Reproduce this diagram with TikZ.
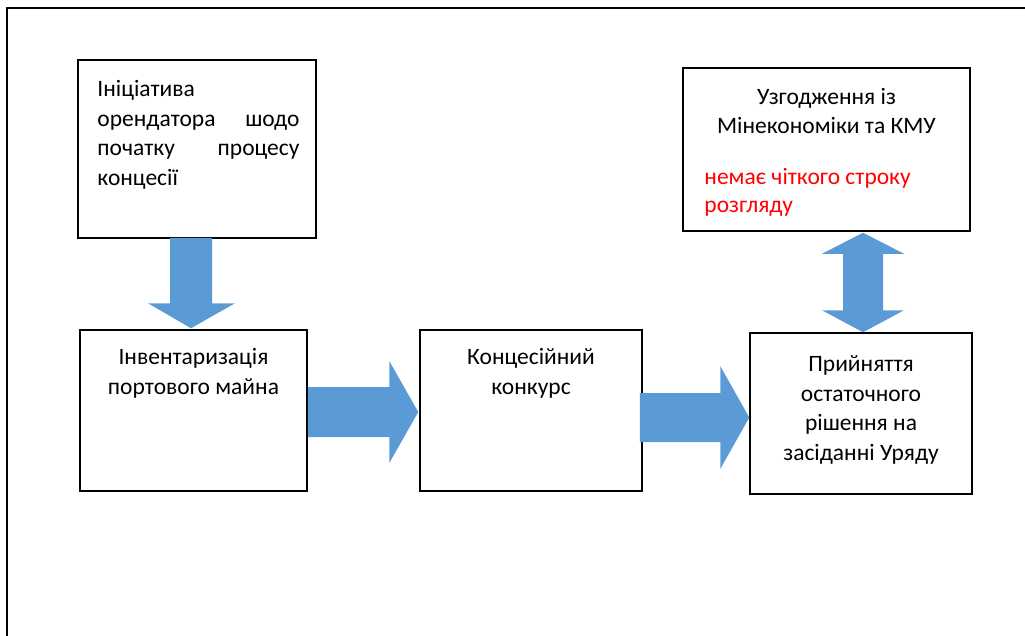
\documentclass[tikz,border=0pt]{standalone}
\usepackage{fontspec}
\setmainfont{Carlito}
\usetikzlibrary{positioning,calc}
\definecolor{arrowblue}{HTML}{5B9BD5}

\begin{document}
\begin{tikzpicture}[x=1pt,y=-1pt,
  box/.style={draw,line width=1.5pt,inner sep=0pt},
  txt/.style={inner sep=0pt,font=\fontsize{23.5}{29.5}\selectfont},
  fatarrow/.style={fill=arrowblue}]
\useasboundingbox (0,0) rectangle (1025,635);
\draw[line width=1.6pt] (7,660) -- (7,8) -- (1050,8);

\node[box,minimum width=238pt,minimum height=178pt] (init) at (197,149) {};
\node[box,minimum width=227pt,minimum height=161pt] (inv) at (193.5,410.5) {};
\node[box,minimum width=222pt,minimum height=161pt] (konk) at (531,410.5) {};
\node[box,minimum width=222pt,minimum height=161pt] (rish) at (861,413.5) {};
\node[box,minimum width=287pt,minimum height=163pt] (uzg) at (826.5,149.5) {};

\node[txt,text width=202pt,align=left,below right=21pt and 20pt of init.north west] (inittext) {Ініціатива\\орендатора\hfill шодо\\початку\hfill процесу\\концесії};
\node[txt,align=center,below=19pt of inv.north] (invtext) {Інвентаризація\\портового майна};
\node[txt,align=center,below=19pt of konk.north] (konktext) {Концесійний\\конкурс};
\node[txt,align=center,below=23.5pt of rish.north] (rishtext) {Прийняття\\остаточного\\рішення на\\засіданні Уряду};
\node[txt,align=center,below=20.5pt of uzg.north] (uzgtext) {Узгодження із\\Мінекономіки та КМУ};
\node[txt,text=red,align=left,font=\fontsize{23.5}{28}\selectfont,below right=101pt and 22pt of uzg.north west] (uzgnote) {немає чіткого строку\\розгляду};

% init -> inv
\fill[fatarrow] ($(init.south)+(-27,-1)$) -- ($(inv.north)+(-23.5,-26)$) -- ($(inv.north)+(-45.5,-26)$) -- ($(inv.north)+(-2.5,-1)$) -- ($(inv.north)+(41.5,-26)$) -- ($(inv.north)+(18.5,-26)$) -- ($(init.south)+(15,-1)$) -- cycle;
% inv -> konk
\fill[fatarrow] ($(inv.east)+(0,-23.5)$) -- ($(konk.west)+(-30,-23.5)$) -- ($(konk.west)+(-30,-49.5)$) -- ($(konk.west)+(-1,1.5)$) -- ($(konk.west)+(-30,52.5)$) -- ($(konk.west)+(-30,26.5)$) -- ($(inv.east)+(0,26.5)$) -- cycle;
% konk -> rish
\fill[fatarrow] ($(konk.east)+(-3,-17.5)$) -- ($(rish.west)+(-29,-20.5)$) -- ($(rish.west)+(-29,-47.5)$) -- ($(rish.west)+(0,4)$) -- ($(rish.west)+(-29,55.5)$) -- ($(rish.west)+(-29,28.5)$) -- ($(konk.east)+(-3,31.5)$) -- cycle;
% uzg <-> rish
\fill[fatarrow] ($(uzg.south)+(36.5,1)$) -- ($(uzg.south)+(77.5,22)$) -- ($(uzg.south)+(56.5,22)$) -- ($(rish.north)+(22,-22)$) -- ($(rish.north)+(43,-22)$) -- ($(rish.north)+(2,0)$) -- ($(rish.north)+(-39,-22)$) -- ($(rish.north)+(-18,-22)$) -- ($(uzg.south)+(16.5,22)$) -- ($(uzg.south)+(-4.5,22)$) -- cycle;
\end{tikzpicture}
\end{document}
